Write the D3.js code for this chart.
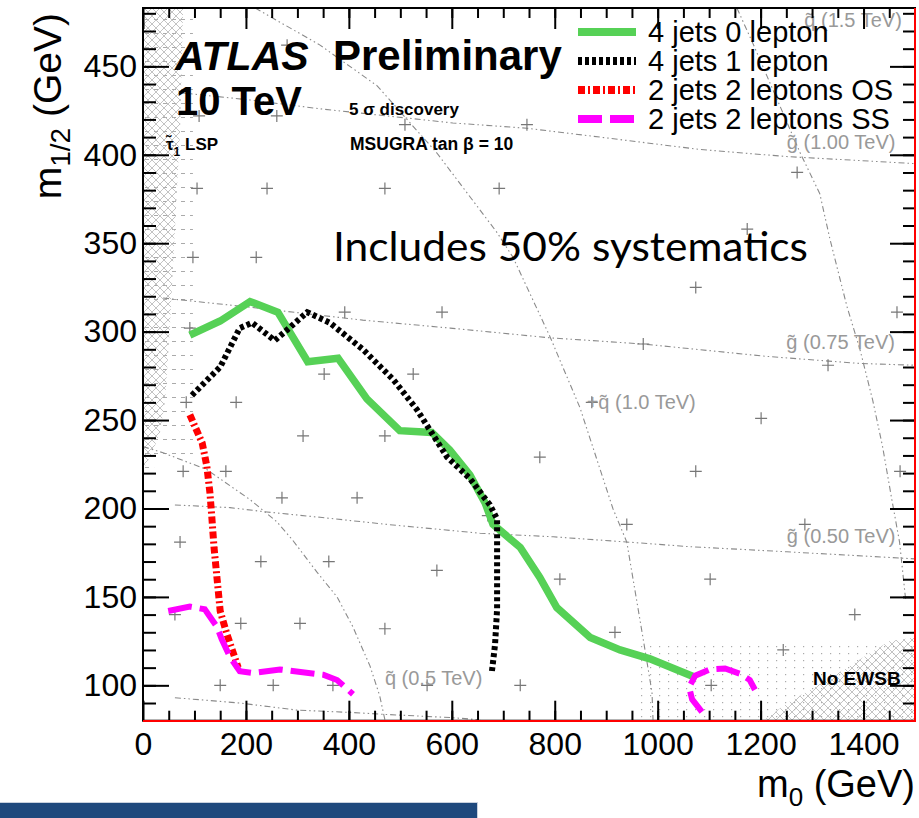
<!DOCTYPE html>
<html>
<head>
<meta charset="utf-8">
<script src="https://cdn.jsdelivr.net/npm/d3@7"></script>
<style>
  body { margin: 0; background: #fff; }
  svg { display: block; }
  .tick text { font-family: "Liberation Sans", Arial, sans-serif; }
</style>
</head>
<body>
<svg id="chart" width="919" height="818"></svg>
<script>
// 5 sigma discovery reach, mSUGRA tan(beta)=10, 10 TeV
// values are [m0, m1/2] in GeV

// signal reach curves
var jets4lep0 = [[91, 298], [150, 306], [208, 317], [262, 311], [320, 283], [379, 285], [435, 262],
  [499, 244], [561, 243], [596, 233], [635, 219], [665, 203], [680, 191], [733, 178], [771, 161],
  [804, 144], [869, 127], [927, 120], [985, 115], [1069, 105]];
var jets4lep1 = [[95, 264], [150, 280], [188, 302], [212, 305], [256, 295], [280, 301], [319, 311],
  [363, 305], [427, 290], [486, 273], [532, 256], [591, 229], [635, 217], [674, 202], [688, 194],
  [688, 171], [688, 143], [684, 123], [678, 108]];
var jets2lepOS = [[91, 253], [115, 237], [124, 224], [130, 209], [134, 194], [138, 178], [144, 160],
  [150, 142], [163, 129], [185, 110]];
var jets2lepSS = [[49, 142], [91, 144.5], [120, 143], [144, 133], [153, 126], [169, 116], [188, 108],
  [214, 107], [266, 109], [350, 106], [377, 103], [408, 95]];
var jets2lepSS2 = [[1086, 85], [1067, 92], [1061, 99], [1073, 105.5], [1102, 109], [1131, 109.5],
  [1160, 106.5], [1179, 103], [1189, 97.5]];

// iso-mass contours (gluino / squark)
var gluino100 = [[76, 435], [208, 431], [344, 426], [602, 418], [746, 415], [888, 410], [1082, 403], [1251, 399], [1500, 395]];
var gluino075 = [[39, 319], [202, 314], [427, 306.5], [597, 302], [791, 296.5], [972, 293], [1212, 286], [1393, 282], [1500, 281]];
var gluino050 = [[62, 202], [169, 200.5], [241, 198], [344, 195], [474, 191], [655, 186], [797, 184], [966, 180.5], [1057, 178.5], [1251, 175.5], [1471, 172], [1500, 171.5]];
var gluino025 = [[62, 93], [188, 90], [299, 86], [408, 84.6], [474, 83.5], [602, 81.7], [655, 80.5]];
var squark05 = [[0, 235], [39, 231.5], [124, 222], [208, 205], [260, 192.5], [291, 182], [338, 164], [377, 150], [408, 133], [441, 111], [460, 94], [470, 80.5]];
var squark10 = [[218, 483], [344, 462], [455, 439], [571, 401], [688, 356], [719, 342], [791, 297], [849, 257], [913, 200], [940, 181], [972, 126], [989, 96], [991, 80.5]];
var squark15 = [[1154, 483], [1185, 463], [1277, 401], [1315, 378], [1335, 352], [1368, 314], [1393, 290], [1418, 261], [1437, 235], [1455, 205], [1470, 181], [1482, 148]];

// excluded regions
var stauLSP = [[0, 483], [78, 483], [72, 414], [58, 335], [52, 301], [43, 261], [33, 243], [17, 231], [4, 224], [0, 222]];
var leftDotted = [[0, 483], [97, 483], [97, 228], [0, 222]];
var noEWSB = [[1205, 80], [1252, 90], [1340, 105], [1406, 117], [1451, 125], [1500, 127], [1500, 80]];
var rightDotted = [[966, 80], [966, 124], [1500, 124], [1500, 80]];

// sampled grid points
var gridPoints = [[280, 462], [109, 422], [260, 422], [509, 417], [746, 417], [105, 381], [241, 381],
  [470, 381], [692, 381], [1271, 390], [1174, 358], [97, 342], [220, 342], [392, 311], [581, 311],
  [91, 302], [352, 276], [525, 276], [84, 260], [181, 260], [311, 241], [470, 241], [78, 221],
  [161, 221], [270, 206], [416, 206], [1074, 325], [972, 293], [872, 260], [1201, 251], [771, 229],
  [1074, 221], [72, 181], [229, 170], [62, 140], [190, 135], [305, 135], [150, 100], [253, 100],
  [361, 170], [571, 165], [470, 132], [940, 191], [810, 160], [917, 130], [369, 100], [552, 100],
  [733, 100], [670, 196], [1102, 160], [1383, 140], [1244, 120], [1104, 100], [1286, 191],
  [1465, 311], [1331, 281], [1471, 221]];

var xMajor = [0, 200, 400, 600, 800, 1000, 1200, 1400];
var yMajor = [100, 150, 200, 250, 300, 350, 400, 450];

var legendLabels = ["4 jets 0 lepton", "4 jets 1 lepton", "2 jets 2 leptons OS", "2 jets 2 leptons SS"];

var svg = d3.select("#chart");
var x = d3.scaleLinear().domain([0, 1500]).range([143, 915]);
var y = d3.scaleLinear().domain([80, 483]).range([720.7, 8]);

var line = d3.line()
  .x(function (d) { return x(d[0]); })
  .y(function (d) { return y(d[1]); });
var area = function (pts) { return line(pts) + "Z"; };

var defs = svg.append("defs");
defs.append("clipPath").attr("id", "plotclip")
  .append("rect").attr("x", 143).attr("y", 8).attr("width", 772).attr("height", 712.7);

var hatch = defs.append("pattern").attr("id", "hatch")
  .attr("patternUnits", "userSpaceOnUse").attr("width", 8).attr("height", 8);
hatch.append("path").attr("d", "M0,0L8,8M8,0L0,8")
  .attr("stroke", "#b4b4b4").attr("stroke-width", 0.8);

var dots = defs.append("pattern").attr("id", "dots")
  .attr("patternUnits", "userSpaceOnUse").attr("width", 9).attr("height", 7);
dots.append("rect").attr("x", 2).attr("y", 2).attr("width", 1.2).attr("height", 1.2).attr("fill", "#aaa");

var dashes = defs.append("pattern").attr("id", "dashes")
  .attr("patternUnits", "userSpaceOnUse").attr("width", 9).attr("height", 14);
dashes.append("rect").attr("x", 1).attr("y", 5).attr("width", 4).attr("height", 1).attr("fill", "#aaa");

var plot = svg.append("g").attr("clip-path", "url(#plotclip)");

// regions
plot.append("path").attr("d", area(leftDotted)).attr("fill", "url(#dashes)");
plot.append("path").attr("d", area(rightDotted)).attr("fill", "url(#dots)");
plot.append("path").attr("d", area(stauLSP)).attr("fill", "url(#hatch)");
plot.append("path").attr("d", area(noEWSB)).attr("fill", "url(#hatch)");

// mass contours
[gluino100, gluino075, gluino050, gluino025, squark05, squark10, squark15].forEach(function (c) {
  plot.append("path").attr("d", line(c))
    .attr("fill", "none").attr("stroke", "#8a8a8a").attr("stroke-width", 1.1)
    .attr("stroke-dasharray", "6,3,1.5,3,1.5,3");
});

// grid points
plot.selectAll(".pt")
  .data(gridPoints)
  .enter().append("path")
  .attr("class", "pt")
  .attr("transform", function (d) { return "translate(" + x(d[0]) + "," + y(d[1]) + ")"; })
  .attr("d", "M-6,0H6M0,-6V6")
  .attr("stroke", "#777").attr("stroke-width", 1.2);

// contour labels
var contourLabels = [
  { t: "q\u0303 (1.5 TeV)", m0: 1285, m12: 472 },
  { t: "g\u0303 (1.00 TeV)", m0: 1251, m12: 403 },
  { t: "g\u0303 (0.75 TeV)", m0: 1250, m12: 290 },
  { t: "+q\u0303 (1.0 TeV)", m0: 862, m12: 256 },
  { t: "g\u0303 (0.50 TeV)", m0: 1251, m12: 180.5 },
  { t: "q\u0303 (0.5 TeV)", m0: 470, m12: 100 }
];
plot.selectAll(".clab")
  .data(contourLabels)
  .enter().append("text")
  .attr("x", function (d) { return x(d.m0); })
  .attr("y", function (d) { return y(d.m12); })
  .attr("font-family", "Liberation Sans, Arial, sans-serif")
  .attr("font-size", 20).attr("fill", "#999")
  .text(function (d) { return d.t; });

// signal curves
var curves = [
  { data: jets4lep0, color: "#56d156", w: 7.5, dash: null },
  { data: jets4lep1, color: "#000", w: 6, dash: "4,3" },
  { data: jets2lepOS, color: "#ff0000", w: 7, dash: "7,3,2,3" },
  { data: jets2lepSS, color: "#ff00ff", w: 6, dash: "24,8" },
  { data: jets2lepSS2, color: "#ff00ff", w: 6, dash: "24,8" }
];
curves.forEach(function (c) {
  plot.append("path").attr("d", line(c.data))
    .attr("fill", "none").attr("stroke", c.color).attr("stroke-width", c.w)
    .attr("stroke-dasharray", c.dash);
});

// axes, ticks inward
function styleAxis(g) {
  g.select(".domain").remove();
  g.selectAll(".tick line").attr("stroke", "#000").attr("stroke-width", 2);
  g.selectAll(".tick text").attr("font-size", 32).attr("fill", "#000");
}
svg.append("g").attr("transform", "translate(0,720.7)")
  .call(d3.axisBottom(x).tickValues(d3.range(50, 1500, 50)).tickSize(-10).tickFormat(""))
  .call(styleAxis);
svg.append("g").attr("transform", "translate(0,720.7)")
  .call(d3.axisBottom(x).tickValues(xMajor).tickSize(-20).tickPadding(12).tickFormat(d3.format("d")))
  .call(styleAxis);
svg.append("g").attr("transform", "translate(0,8)")
  .call(d3.axisTop(x).tickValues(d3.range(50, 1500, 50)).tickSize(-10).tickFormat(""))
  .call(styleAxis);
svg.append("g").attr("transform", "translate(0,8)")
  .call(d3.axisTop(x).tickValues(xMajor).tickSize(-21).tickFormat(""))
  .call(styleAxis);
svg.append("g").attr("transform", "translate(143,0)")
  .call(d3.axisLeft(y).tickValues(d3.range(90, 483, 10)).tickSize(-13).tickFormat(""))
  .call(styleAxis);
svg.append("g").attr("transform", "translate(143,0)")
  .call(d3.axisLeft(y).tickValues(yMajor).tickSize(-26).tickPadding(6).tickFormat(d3.format("d")))
  .call(styleAxis);
svg.append("g").attr("transform", "translate(915,0)")
  .call(d3.axisRight(y).tickValues(d3.range(90, 483, 10)).tickSize(-12).tickFormat(""))
  .call(styleAxis);
svg.append("g").attr("transform", "translate(915,0)")
  .call(d3.axisRight(y).tickValues(yMajor).tickSize(-25).tickFormat(""))
  .call(styleAxis);

// frame
svg.append("rect").attr("x", 143).attr("y", 8).attr("width", 772).attr("height", 712.7)
  .attr("fill", "none").attr("stroke", "#000").attr("stroke-width", 2);
svg.append("path").attr("d", "M143,721H915V8")
  .attr("fill", "none").attr("stroke", "#ff0000").attr("stroke-width", 2);

// axis titles
var font = "Liberation Sans, Arial, sans-serif";
var xt = svg.append("text").attr("x", 915).attr("y", 797).attr("text-anchor", "end")
  .attr("font-family", font).attr("font-size", 38);
xt.append("tspan").text("m");
xt.append("tspan").attr("font-size", 26).attr("dy", 9).text("0");
xt.append("tspan").attr("dy", -9).text(" (GeV)");

var yt = svg.append("text").attr("transform", "translate(61,13) rotate(-90)").attr("text-anchor", "end")
  .attr("font-family", font).attr("font-size", 39);
yt.append("tspan").text("m");
yt.append("tspan").attr("font-size", 28).attr("dy", 9).text("1/2");
yt.append("tspan").attr("dy", -9).text(" (GeV)");

// legend
var legendY = [32, 61, 90, 119];
legendLabels.forEach(function (lab, i) {
  var c = curves[i];
  svg.append("line").attr("x1", 578).attr("x2", 636).attr("y1", legendY[i]).attr("y2", legendY[i])
    .attr("stroke", c.color).attr("stroke-width", 8).attr("stroke-dasharray", c.dash);
  svg.append("text").attr("x", 648).attr("y", legendY[i] + 10)
    .attr("font-family", font).attr("font-size", 29).attr("fill", "#000").text(lab);
});

// plot annotations
svg.append("text").attr("x", 175).attr("y", 70).attr("font-family", font)
  .attr("font-size", 41).attr("font-weight", "bold").attr("font-style", "italic").text("ATLAS");
svg.append("text").attr("x", 333).attr("y", 70).attr("font-family", font)
  .attr("font-size", 42).attr("font-weight", "bold").text("Preliminary");
svg.append("text").attr("x", 176).attr("y", 115).attr("font-family", font)
  .attr("font-size", 40).attr("font-weight", "bold").text("10 TeV");
svg.append("text").attr("x", 349).attr("y", 115).attr("font-family", font)
  .attr("font-size", 17).attr("font-weight", "bold").text("5 \u03C3 discovery");
svg.append("text").attr("x", 350).attr("y", 150).attr("font-family", font)
  .attr("font-size", 17.5).attr("font-weight", "bold").text("MSUGRA tan \u03B2 = 10");
var lsp = svg.append("text").attr("x", 166).attr("y", 150).attr("font-family", font)
  .attr("font-size", 17).attr("font-weight", "bold");
lsp.append("tspan").text("\u03C4\u0303");
lsp.append("tspan").attr("font-size", 12).attr("dy", 6).text("1");
lsp.append("tspan").attr("dy", -6).text(" LSP");
svg.append("text").attr("x", 813).attr("y", 685).attr("font-family", font)
  .attr("font-size", 19).attr("font-weight", "bold").text("No EWSB");

svg.append("text").attr("x", 333).attr("y", 261).attr("font-family", "Lato, sans-serif")
  .attr("font-size", 40).attr("textLength", 475).attr("lengthAdjust", "spacingAndGlyphs")
  .attr("fill", "#000").text("Includes 50% systematics");

// slide footer bar
svg.append("rect").attr("x", 0).attr("y", 802).attr("width", 478).attr("height", 16).attr("fill", "#c9d1de");
svg.append("rect").attr("x", 0).attr("y", 803).attr("width", 477).attr("height", 15).attr("fill", "#1f497d");
</script>
</body>
</html>
